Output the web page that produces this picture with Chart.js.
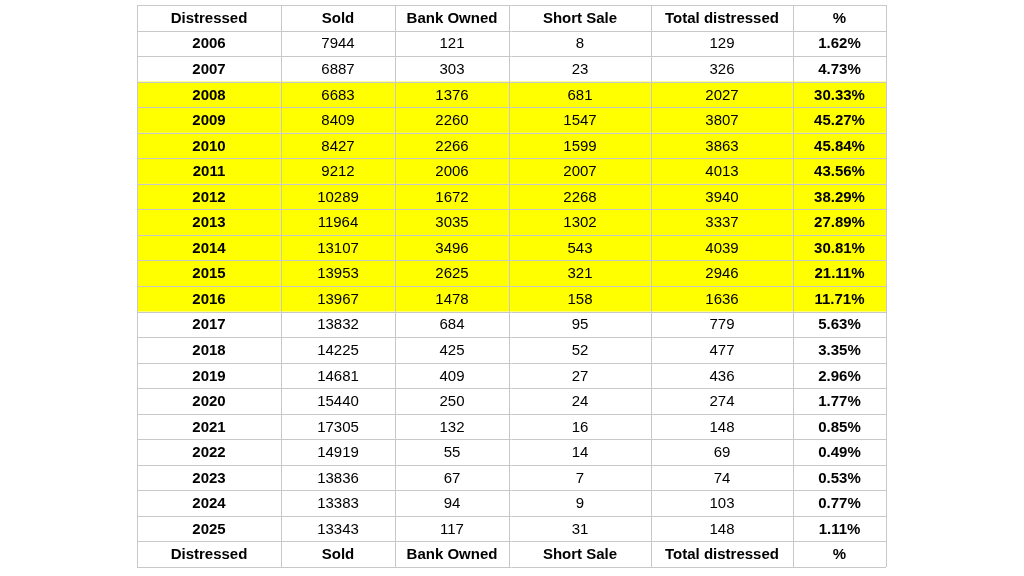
<!DOCTYPE html>
<html><head><meta charset="utf-8">
<script src="https://cdn.jsdelivr.net/npm/chart.js@4.4.1/dist/chart.umd.min.js"></script>
<style>html,body{margin:0;background:#fff}#w{width:1024px;height:576px}</style>
</head><body><div id="w"><canvas id="c"></canvas></div>
<script>
const headers = ["Distressed","Sold","Bank Owned","Short Sale","Total distressed","%"];
const years = [2006,2007,2008,2009,2010,2011,2012,2013,2014,2015,2016,2017,2018,2019,2020,2021,2022,2023,2024,2025];
const sold = [7944,6887,6683,8409,8427,9212,10289,11964,13107,13953,13967,13832,14225,14681,15440,17305,14919,13836,13383,13343];
const bankOwned = [121,303,1376,2260,2266,2006,1672,3035,3496,2625,1478,684,425,409,250,132,55,67,94,117];
const shortSale = [8,23,681,1547,1599,2007,2268,1302,543,321,158,95,52,27,24,16,14,7,9,31];
const totalDistressed = [129,326,2027,3807,3863,4013,3940,3337,4039,2946,1636,779,477,436,274,148,69,74,103,148];
const pct = ["1.62%","4.73%","30.33%","45.27%","45.84%","43.56%","38.29%","27.89%","30.81%","21.11%","11.71%","5.63%","3.35%","2.96%","1.77%","0.85%","0.49%","0.53%","0.77%","1.11%"];
const highlightYears = [2008,2009,2010,2011,2012,2013,2014,2015,2016];

const colEdges = [137,281,395,509,651,793,886];
const nRows = years.length + 2;

const tablePlugin = {
  id:'table',
  afterDraw(ch){
    const ctx = ch.ctx, xs = ch.scales.x, ys = ch.scales.y;
    const px = v => xs.getPixelForValue(v), py = r => ys.getPixelForValue(r);
    const rows = [headers];
    years.forEach((y,i)=>rows.push([String(y),String(sold[i]),String(bankOwned[i]),String(shortSale[i]),String(totalDistressed[i]),pct[i]]));
    rows.push(headers);
    ctx.save();
    rows.forEach((row,r)=>{
      const y0 = py(r), y1 = py(r+1);
      const yr = r>=1 && r<=years.length ? years[r-1] : null;
      if (yr && highlightYears.includes(yr)) {
        ctx.fillStyle = '#ffff00';
        ctx.fillRect(px(colEdges[0]), y0, px(colEdges[6])-px(colEdges[0]), y1-y0);
      }
      row.forEach((t,c)=>{
        const bold = (r===0 || r===nRows-1 || c===0 || c===5);
        ctx.font = (bold?'bold ':'') + '15px "Liberation Sans", Arial, sans-serif';
        ctx.fillStyle = '#000';
        ctx.textAlign = 'center'; ctx.textBaseline = 'middle';
        ctx.fillText(t, (px(colEdges[c])+px(colEdges[c+1]))/2, (y0+y1)/2+1);
      });
    });
    ctx.strokeStyle = '#c8c8c8'; ctx.lineWidth = 1;
    for (let r=0;r<=nRows;r++){ const y=Math.round(py(r))+0.5; ctx.beginPath(); ctx.moveTo(px(colEdges[0]),y); ctx.lineTo(px(colEdges[6]),y); ctx.stroke(); }
    colEdges.forEach(e=>{ const x=Math.round(px(e))+0.5; ctx.beginPath(); ctx.moveTo(x,py(0)); ctx.lineTo(x,py(nRows)); ctx.stroke(); });
    ctx.restore();
  }
};

new Chart(document.getElementById('c'), {
  type:'scatter',
  data:{datasets:[{data:[]}]},
  options:{
    responsive:true, maintainAspectRatio:false, animation:false,
    layout:{padding:{top:5,bottom:9,left:0,right:0}},
    plugins:{legend:{display:false},tooltip:{enabled:false}},
    scales:{
      x:{type:'linear',min:0,max:1024,display:false},
      y:{type:'linear',min:0,max:nRows,reverse:true,display:false}
    }
  },
  plugins:[tablePlugin]
});
</script></body></html>
